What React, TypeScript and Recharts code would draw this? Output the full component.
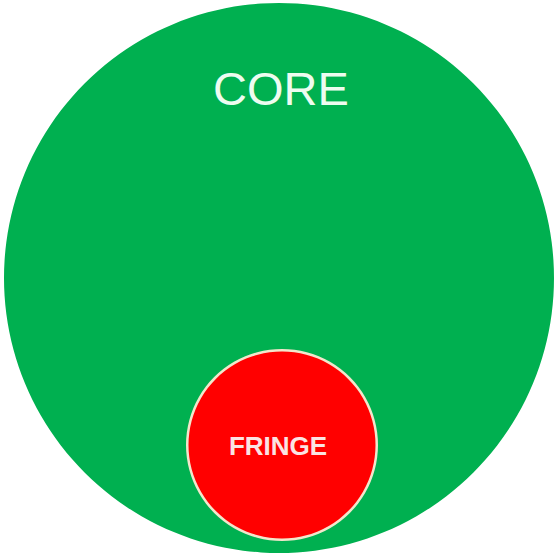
import { PieChart, Pie, Cell } from 'recharts';

// two nested areas of the diagram
const areas = ['CORE', 'FRINGE'];
const areaValues = [1, 1];
const areaColors = ['#00b050', '#ff0000'];

const coreData = [{ name: areas[0], value: areaValues[0] }];
const fringeData = [{ name: areas[1], value: areaValues[1] }];

const renderCoreLabel = (props: any) => {
  const { cx, cy, outerRadius } = props;
  return (
    <text
      x={cx + 2}
      y={cy - outerRadius + 102}
      textAnchor="middle"
      fill="#eefcf0"
      fontFamily="'Liberation Sans', Arial, sans-serif"
      fontSize={47}
    >
      {areas[0]}
    </text>
  );
};

const renderFringeLabel = (props: any) => {
  const { cx, cy } = props;
  return (
    <text
      x={cx - 4}
      y={cy + 10}
      textAnchor="middle"
      fill="#fbe3e3"
      fontFamily="'Liberation Sans', Arial, sans-serif"
      fontWeight="bold"
      fontSize={26}
    >
      {areas[1]}
    </text>
  );
};

export default function App() {
  return (
    <div style={{ position: 'absolute', left: 0, top: 0, background: '#fff' }}>
      <PieChart width={558} height={555} margin={{ top: 0, right: 0, bottom: 0, left: 0 }}>
        <Pie
          data={coreData}
          dataKey="value"
          cx={279}
          cy={278}
          outerRadius={275}
          startAngle={90}
          endAngle={-270}
          stroke="none"
          label={renderCoreLabel}
          labelLine={false}
          isAnimationActive={false}
        >
          <Cell fill={areaColors[0]} />
        </Pie>
        {/* pale rim around the fringe */}
        <Pie
          data={fringeData}
          dataKey="value"
          cx={282}
          cy={445}
          outerRadius={96}
          startAngle={90}
          endAngle={-270}
          stroke="none"
          isAnimationActive={false}
        >
          <Cell fill="#f3e6cc" />
        </Pie>
        <Pie
          data={fringeData}
          dataKey="value"
          cx={282}
          cy={445}
          outerRadius={93.5}
          startAngle={90}
          endAngle={-270}
          stroke="none"
          label={renderFringeLabel}
          labelLine={false}
          isAnimationActive={false}
        >
          <Cell fill={areaColors[1]} />
        </Pie>
      </PieChart>
    </div>
  );
}
